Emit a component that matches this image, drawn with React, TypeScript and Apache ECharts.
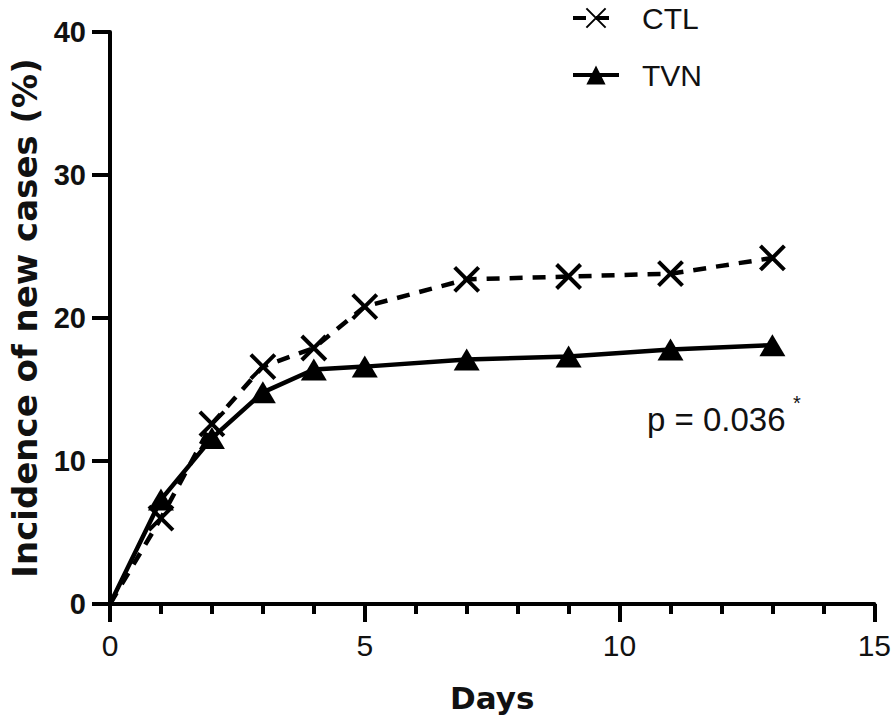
import React, { useEffect, useRef } from "react";
import * as echarts from "echarts";

const days = [0, 1, 2, 3, 4, 5, 7, 9, 11, 13];
const ctlValues = [0, 6.0, 12.6, 16.6, 17.9, 20.8, 22.7, 22.9, 23.1, 24.2];
const tvnValues = [0, 7.3, 11.6, 14.8, 16.4, 16.6, 17.1, 17.3, 17.8, 18.1];
const seriesNames = ["CTL", "TVN"];
const xAxisName = "Days";
const yAxisName = "Incidence of new cases (%)";
const pValueText = "p = 0.036";
const FONT = "'Liberation Sans', Arial, Helvetica, sans-serif";
const TITLE_FONT = "'DejaVu Sans', 'Liberation Sans', Arial, sans-serif";

const crossPath = "path://M0,0L10,10M10,0L0,10";

function toData(vals: number[]) {
  return vals.map((v, i) =>
    i === 0 ? { value: [days[i], v], symbol: "none" } : { value: [days[i], v] }
  );
}

export default function App() {
  const ref = useRef<HTMLDivElement>(null);
  useEffect(() => {
    if (!ref.current) return;
    const chart = echarts.init(ref.current, null, { renderer: "svg" });
    chart.setOption({
      animation: false,
      backgroundColor: "#ffffff",
      grid: { left: 108, right: 16, top: 32, bottom: 119, containLabel: false },
      legend: {
        orient: "vertical",
        left: 566,
        top: -2,
        itemWidth: 46,
        itemHeight: 24,
        itemGap: 27,
        data: seriesNames,
        lineStyle: { width: 4 },
        textStyle: { fontSize: 30, fontFamily: FONT, color: "#111", padding: [0, 0, 0, 18] },
      },
      xAxis: {
        type: "value",
        min: 0,
        max: 15,
        interval: 5,
        name: xAxisName,
        nameLocation: "middle",
        nameGap: 78,
        nameTextStyle: { fontSize: 31, fontWeight: "bold", fontFamily: TITLE_FONT, color: "#111" },
        axisLine: { show: true, onZero: false, lineStyle: { color: "#000", width: 4 } },
        axisTick: { show: true, length: 18, lineStyle: { color: "#000", width: 4 } },
        minorTick: { show: true, splitNumber: 5, length: 10, lineStyle: { color: "#000", width: 4 } },
        axisLabel: { fontSize: 30, fontFamily: FONT, color: "#111", margin: 26 },
        splitLine: { show: false },
        minorSplitLine: { show: false },
      },
      yAxis: {
        type: "value",
        min: 0,
        max: 40,
        interval: 10,
        name: yAxisName,
        nameLocation: "middle",
        nameGap: 68,
        nameTextStyle: { fontSize: 34, fontWeight: "bold", fontFamily: TITLE_FONT, color: "#111" },
        axisLine: { show: true, onZero: false, lineStyle: { color: "#000", width: 4 } },
        axisTick: { show: true, length: 18, lineStyle: { color: "#000", width: 4 } },
        axisLabel: { fontSize: 29, fontWeight: "bold", fontFamily: FONT, color: "#111", margin: 24 },
        splitLine: { show: false },
      },
      series: [
        {
          name: seriesNames[0],
          type: "line",
          data: toData(ctlValues),
          symbol: crossPath,
          symbolSize: 24,
          lineStyle: { color: "#000", width: 4.5, type: [13, 10] },
          itemStyle: { color: "#000", borderColor: "#000", borderWidth: 4 },
          z: 3,
        },
        {
          name: seriesNames[1],
          type: "line",
          data: toData(tvnValues),
          symbol: "triangle",
          symbolSize: [26, 22],
          lineStyle: { color: "#000", width: 4.5, type: "solid" },
          itemStyle: { color: "#000" },
          z: 4,
        },
      ],
      graphic: [
        {
          type: "text",
          left: 647,
          top: 403,
          style: { text: pValueText, fontSize: 33, fontFamily: FONT, fill: "#111" },
        },
        {
          type: "text",
          left: 793,
          top: 393,
          style: { text: "*", fontSize: 20, fontFamily: FONT, fill: "#111" },
        },
      ],
    });
    return () => chart.dispose();
  }, []);
  return (
    <div
      ref={ref}
      style={{ position: "fixed", left: 0, top: 0, width: 894, height: 723, background: "#fff" }}
    />
  );
}
